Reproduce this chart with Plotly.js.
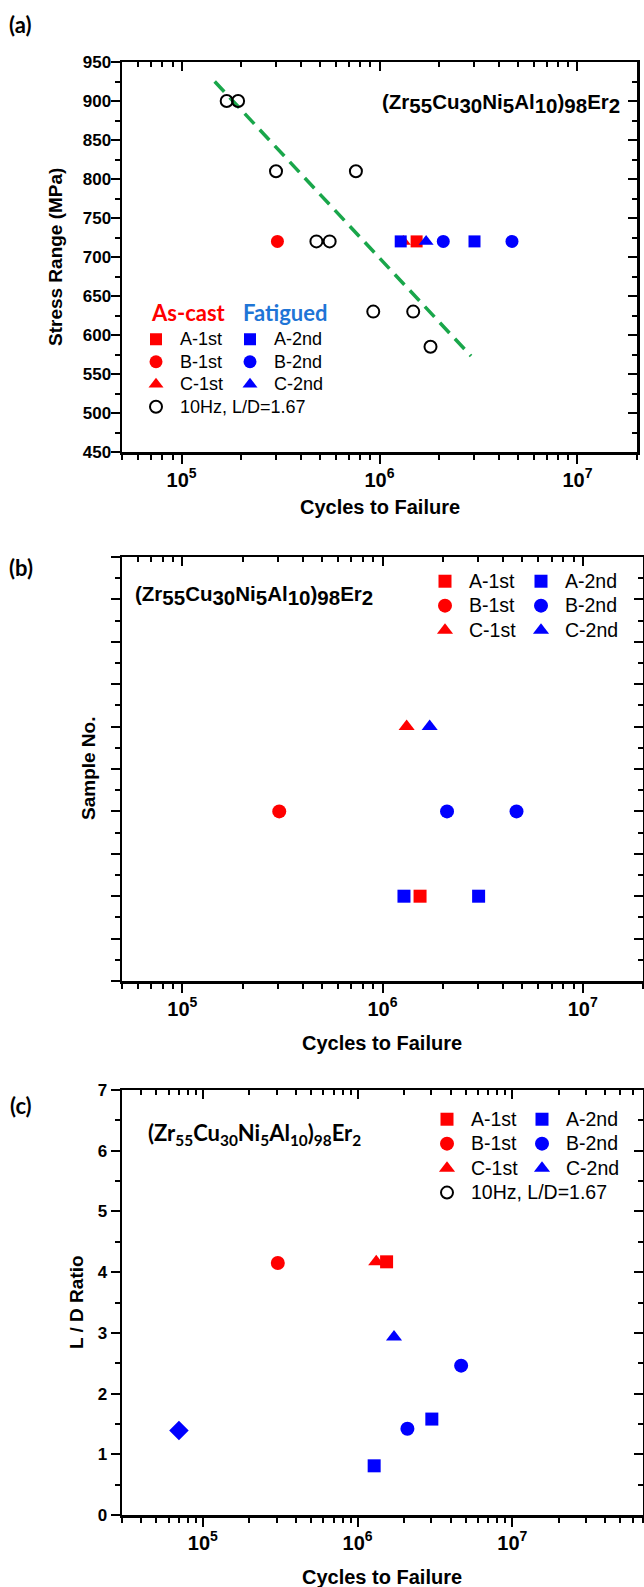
<!DOCTYPE html>
<html>
<head>
<meta charset="utf-8">
<script src="https://cdn.plot.ly/plotly-3.0.1.min.js"></script>
<style>body{margin:0;background:#fff}</style>
</head>
<body>
<div id="chart" style="width:644px;height:1587px"></div>
<script>
// ---------- data ----------
// panel (a): reference data, 10 Hz, L/D = 1.67
const ref10HzCycles = [1.69e5, 1.93e5, 3.0e5, 7.6e5, 4.8e5, 5.6e5, 9.3e5, 1.48e6, 1.81e6];
const ref10HzStress = [900, 900, 810, 810, 720, 720, 630, 630, 585];
// fitted trend line (green dashed)
const fitCycles = [1.47e5, 2.9e6];
const fitStress = [925, 573];
// samples
const cycA1 = [1.54e6];
const cycB1 = [3.05e5];
const cycC1 = [1.32e6];
const cycA2 = [1.28e6, 3.02e6];
const cycB2 = [2.1e6, 4.67e6];
const cycC2 = [1.72e6];
const stressA1 = [720], stressB1 = [720], stressC1 = [720];
const stressA2 = [720, 720], stressB2 = [720, 720], stressC2 = [720];
// panel (b): sample number
const sampleA1 = [2], sampleB1 = [4], sampleC1 = [6];
const sampleA2 = [2, 2], sampleB2 = [4, 4], sampleC2 = [6];
// panel (c): L/D ratio
const ldA1 = [4.17], ldB1 = [4.15], ldC1 = [4.17];
const ldA2 = [0.81, 1.58], ldB2 = [1.42, 2.46], ldC2 = [2.93];
const cycExtra = [7.0e4], ldExtra = [1.39];
const legendOnlyX = [null], legendOnlyY = [null];
const stressTicks = [450, 500, 550, 600, 650, 700, 750, 800, 850, 900, 950];

// ---------- styling helpers ----------
const W = 644, H = 1587;
const RED = '#ff0000', BLUE = '#0000ff';
const AX = '"Liberation Sans", Arial, sans-serif';
const CAL = 'Lato, "Liberation Sans", sans-serif';
const dX = (a, b) => [a / W, b / W];
const dY = (t, b) => [1 - b / H, 1 - t / H];
const L10 = Math.log10;
// legend label rendered slightly larger than the legend row height
const nmA = s => '<span style="font-size:18px">' + s + '</span>';
const nmB = s => '<span style="font-size:19.5px">' + s + '</span>';

function xMain(range, domain, anchor, fs) {
  return {type: 'log', range, domain, anchor, showline: true, linewidth: 2.5, linecolor: '#000', mirror: true,
    ticks: 'outside', ticklen: 9, tickwidth: 2, tickcolor: '#000', dtick: 1, exponentformat: 'power', showexponent: 'all',
    tickfont: {family: AX, size: fs, color: '#000', weight: 'bold'}, showgrid: false, zeroline: false,
    minor: {dtick: 'D1', ticks: 'outside', ticklen: 5, tickwidth: 2, tickcolor: '#000', showgrid: false}};
}
function xTop(range, over, anchor) {
  return {type: 'log', range, overlaying: over, anchor, side: 'top', showline: false, ticks: 'inside', ticklen: 9,
    tickwidth: 2, tickcolor: '#000', dtick: 1, showticklabels: false, showgrid: false, zeroline: false,
    minor: {dtick: 'D1', ticks: 'inside', ticklen: 5, tickwidth: 2, tickcolor: '#000', showgrid: false}};
}
function yMain(range, domain, anchor, dtick, mdt, fs, labels) {
  return {range, domain, anchor, showline: true, linewidth: 2.5, linecolor: '#000', mirror: true,
    ticks: 'outside', ticklen: 9, tickwidth: 2, tickcolor: '#000', dtick, tick0: range[0], showticklabels: labels,
    tickfont: {family: AX, size: fs, color: '#000', weight: 'bold'}, showgrid: false, zeroline: false,
    minor: {dtick: mdt, ticks: 'outside', ticklen: 5, tickwidth: 2, tickcolor: '#000', showgrid: false}};
}
function yRight(range, over, anchor, dtick, mdt) {
  return {range, overlaying: over, anchor, side: 'right', showline: false, ticks: 'inside', ticklen: 9, tickwidth: 2,
    tickcolor: '#000', dtick, tick0: range[0], showticklabels: false, showgrid: false, zeroline: false,
    minor: {dtick: mdt, ticks: 'inside', ticklen: 5, tickwidth: 2, tickcolor: '#000', showgrid: false}};
}
function pts(name, x, y, sym, color, size, xa, ya, lg, show = true) {
  return {type: 'scatter', mode: 'markers', name, x, y, xaxis: xa, yaxis: ya, legend: lg, showlegend: show,
    marker: {symbol: sym, color, size, line: {width: 0}}, hoverinfo: 'skip'};
}
function openPts(name, x, y, xa, ya, lg) {
  return {type: 'scatter', mode: 'markers', name, x, y, xaxis: xa, yaxis: ya, legend: lg,
    marker: {symbol: 'circle-open', color: '#000', size: 12, line: {width: 2, color: '#000'}}, hoverinfo: 'skip'};
}
function ghost(x, y, xa, ya) {
  return {type: 'scatter', mode: 'markers', x, y, xaxis: xa, yaxis: ya, showlegend: false, hoverinfo: 'skip',
    marker: {opacity: 0, size: 1}};
}

const xrAB = [L10(5e4), L10(2e7)];
const xrC = [L10(3e4), L10(7e7)];

const traces = [
  // ---- (a) ----
  {type: 'scatter', mode: 'lines', x: fitCycles, y: fitStress, xaxis: 'x', yaxis: 'y', showlegend: false,
   line: {color: '#19a64a', width: 3.5, dash: '14px,8px'}, hoverinfo: 'skip'},
  pts(nmA('A-1st'), cycA1, stressA1, 'square', RED, 12, 'x', 'y', 'legend'),
  pts(nmA('B-1st'), cycB1, stressB1, 'circle', RED, 13, 'x', 'y', 'legend'),
  pts(nmA('C-1st'), cycC1, stressC1, 'triangle-up', RED, 13, 'x', 'y', 'legend'),
  openPts(nmA('10Hz, L/D=1.67'), ref10HzCycles, ref10HzStress, 'x', 'y', 'legend'),
  pts(nmA('A-2nd'), cycA2, stressA2, 'square', BLUE, 12, 'x', 'y', 'legend2'),
  pts(nmA('B-2nd'), cycB2, stressB2, 'circle', BLUE, 13, 'x', 'y', 'legend2'),
  pts(nmA('C-2nd'), cycC2, stressC2, 'triangle-up', BLUE, 13, 'x', 'y', 'legend2'),
  ghost(fitCycles, fitStress, 'x2', 'y2'),
  // ---- (b) ----
  pts(nmB('A-1st'), cycA1, sampleA1, 'square', RED, 13, 'x3', 'y3', 'legend3'),
  pts(nmB('B-1st'), cycB1, sampleB1, 'circle', RED, 14, 'x3', 'y3', 'legend3'),
  pts(nmB('C-1st'), cycC1, sampleC1, 'triangle-up', RED, 14, 'x3', 'y3', 'legend3'),
  pts(nmB('A-2nd'), cycA2, sampleA2, 'square', BLUE, 13, 'x3', 'y3', 'legend4'),
  pts(nmB('B-2nd'), cycB2, sampleB2, 'circle', BLUE, 14, 'x3', 'y3', 'legend4'),
  pts(nmB('C-2nd'), cycC2, sampleC2, 'triangle-up', BLUE, 14, 'x3', 'y3', 'legend4'),
  ghost(cycB2, sampleB2, 'x4', 'y4'),
  // ---- (c) ----
  pts(nmB('A-1st'), cycA1, ldA1, 'square', RED, 13, 'x5', 'y5', 'legend5'),
  pts(nmB('B-1st'), cycB1, ldB1, 'circle', RED, 14, 'x5', 'y5', 'legend5'),
  pts(nmB('C-1st'), cycC1, ldC1, 'triangle-up', RED, 14, 'x5', 'y5', 'legend5'),
  openPts(nmB('10Hz, L/D=1.67'), legendOnlyX, legendOnlyY, 'x5', 'y5', 'legend5'),
  pts(nmB('A-2nd'), cycA2, ldA2, 'square', BLUE, 13, 'x5', 'y5', 'legend6'),
  pts(nmB('B-2nd'), cycB2, ldB2, 'circle', BLUE, 14, 'x5', 'y5', 'legend6'),
  pts(nmB('C-2nd'), cycC2, ldC2, 'triangle-up', BLUE, 14, 'x5', 'y5', 'legend6'),
  pts('extra', cycExtra, ldExtra, 'diamond', BLUE, 15, 'x5', 'y5', 'legend6', false),
  ghost(cycB2, ldB2, 'x6', 'y6')
];

function leg(markerX, firstRow, fs, off) {
  return {x: (markerX - 22) / W, y: 1 - (firstRow - off) / H, xanchor: 'left', yanchor: 'top',
    bgcolor: 'rgba(0,0,0,0)', borderwidth: 0, tracegroupgap: 0, traceorder: 'normal', itemwidth: 38,
    font: {family: AX, size: fs, color: '#000'}};
}

function ann(text, x, y, opts) {
  return Object.assign({text, x: x / W, y: 1 - y / H, xref: 'paper', yref: 'paper', showarrow: false,
    xanchor: 'center', yanchor: 'middle'}, opts || {});
}
const big = s => '<sub><span style="font-size:20.5px">' + s + '</span></sub>';
const formulaBig = '(Zr' + big('55') + 'Cu' + big('30') + 'Ni' + big('5') + 'Al' + big('10') + ')' + big('98') + 'Er' + big('2');
const formulaC = '(Zr<sub>55</sub>Cu<sub>30</sub>Ni<sub>5</sub>Al<sub>10</sub>)<sub>98</sub>Er<sub>2</sub>';

const titleFont = {family: AX, size: 19, color: '#000', weight: 'bold'};
const titleFontX = {family: AX, size: 20, color: '#000', weight: 'bold'};
const layout = {
  width: W, height: H, margin: {l: 0, r: 0, t: 0, b: 0}, paper_bgcolor: '#fff', plot_bgcolor: 'rgba(0,0,0,0)',
  xaxis: xMain(xrAB, dX(122, 637), 'y', 16),
  yaxis: Object.assign(yMain([450, 950], dY(62, 452), 'x', 50, 25, 17, true), {tickvals: stressTicks, ticklabelstandoff: -4}),
  xaxis2: xTop(xrAB, 'x', 'y'),
  yaxis2: yRight([450, 950], 'y', 'x', 50, 25),
  xaxis3: xMain(xrAB, dX(122, 643), 'y3', 16),
  yaxis3: yMain([0, 10], dY(557, 981), 'x3', 1, 0.5, 16, false),
  xaxis4: xTop(xrAB, 'x3', 'y3'),
  yaxis4: yRight([0, 10], 'y3', 'x3', 1, 0.5),
  xaxis5: xMain(xrC, dX(122, 643), 'y5', 16),
  yaxis5: yMain([0, 7], dY(1090, 1515), 'x5', 1, 0.5, 17, true),
  xaxis6: xTop(xrC, 'x5', 'y5'),
  yaxis6: yRight([0, 7], 'y5', 'x5', 1, 0.5),
  legend: leg(154, 339, 15, 16),
  legend2: leg(248, 339, 15, 16),
  legend3: leg(443, 582, 16.5, 18),
  legend4: leg(539, 582, 16.5, 18),
  legend5: leg(445, 1120, 16.5, 18),
  legend6: leg(540, 1120, 16.5, 18),
  annotations: [
    ann('(a)', 7, 24, {xanchor: 'left', font: {family: CAL, size: 22, color: '#000', weight: 'bold'}}),
    ann('(b)', 7, 567, {xanchor: 'left', font: {family: CAL, size: 22, color: '#000', weight: 'bold'}}),
    ann('(c)', 8, 1105, {xanchor: 'left', font: {family: CAL, size: 22, color: '#000', weight: 'bold'}}),
    ann('Stress Range (MPa)', 55, 257, {textangle: -90, font: titleFont}),
    ann('Cycles to Failure', 380, 507, {font: titleFontX}),
    ann('Sample No.', 88, 769, {textangle: -90, font: titleFont}),
    ann('Cycles to Failure', 382, 1043, {font: titleFontX}),
    ann('L / D Ratio', 76, 1302, {textangle: -90, font: titleFont}),
    ann('Cycles to Failure', 382, 1577, {font: titleFontX}),
    ann(formulaBig, 622, 103, {xanchor: 'right', font: {family: AX, size: 20.5, color: '#000', weight: 'bold'}}),
    ann(formulaBig, 133, 595, {xanchor: 'left', font: {family: AX, size: 20.5, color: '#000', weight: 'bold'}}),
    ann(formulaC, 146, 1134, {xanchor: 'left', font: {family: CAL, size: 22, color: '#000', weight: 'bold'}}),
    ann('As-cast', 149, 313, {xanchor: 'left', font: {family: CAL, size: 22, color: RED, weight: 'bold'}}),
    ann('Fatigued', 241, 313, {xanchor: 'left', font: {family: CAL, size: 22, color: '#1f75d6', weight: 'bold'}})
  ]
};

Plotly.newPlot('chart', traces, layout, {staticPlot: true, displayModeBar: false});
</script>
</body>
</html>
